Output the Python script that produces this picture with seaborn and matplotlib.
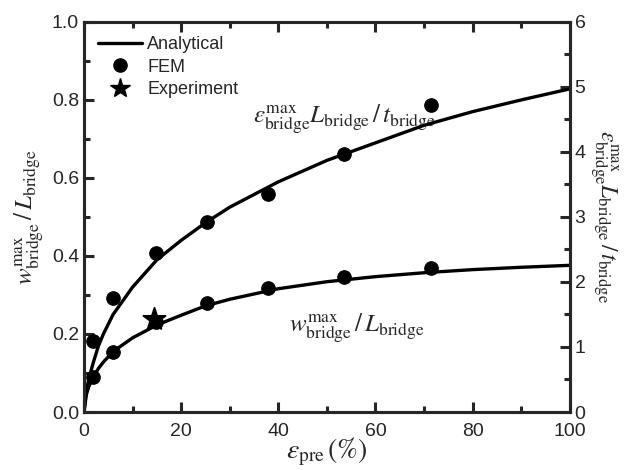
import seaborn as sns
import matplotlib.pyplot as plt
import pandas as pd
from matplotlib.lines import Line2D
from matplotlib.ticker import MultipleLocator

# prestrain (%) for the analytical curves
eps_curve = [0, 0.5, 1, 2, 3, 4, 6, 10, 15, 20, 25, 30, 40, 50, 60, 70, 80, 90, 100]
# w_max / L (left axis)
w_curve = [0, 0.045, 0.065, 0.092, 0.112, 0.128, 0.155, 0.19, 0.223, 0.248, 0.272,
           0.289, 0.316, 0.334, 0.347, 0.357, 0.365, 0.371, 0.376]
# eps_max * L / t (right axis)
s_curve = [0, 0.33, 0.51, 0.78, 1.02, 1.2, 1.5, 1.92, 2.34, 2.64, 2.91,
           3.15, 3.54, 3.87, 4.14, 4.41, 4.62, 4.8, 4.97]

# FEM results
eps_fem = [1.9, 6.0, 14.9, 25.4, 37.9, 53.5, 71.5]
w_fem = [0.09, 0.155, 0.23, 0.28, 0.319, 0.347, 0.368]
s_fem = [1.09, 1.76, 2.44, 2.93, 3.36, 3.97, 4.72]

# experiment
eps_exp = [14.4]
w_exp = [0.238]

sns.set_theme(style="ticks")
plt.rcParams["font.family"] = ["Liberation Sans", "DejaVu Sans"]
plt.rcParams["mathtext.fontset"] = "stix"

df_curve = pd.DataFrame({"eps": eps_curve, "w": w_curve, "s": s_curve})
df_fem = pd.DataFrame({"eps": eps_fem, "w": w_fem, "s": s_fem})
df_exp = pd.DataFrame({"eps": eps_exp, "w": w_exp})

fig = plt.figure(figsize=(6.36, 4.7), dpi=100)
ax = fig.add_axes([0.132, 0.1234, 0.764, 0.83])
ax2 = ax.twinx()

sns.lineplot(data=df_curve, x="eps", y="w", ax=ax, color="black", lw=2.4)
sns.scatterplot(data=df_fem, x="eps", y="w", ax=ax, color="black", s=95,
                edgecolor="black", zorder=5)
sns.scatterplot(data=df_exp, x="eps", y="w", ax=ax, color="black", marker="*",
                s=280, edgecolor="black", zorder=6)
sns.lineplot(data=df_curve, x="eps", y="s", ax=ax2, color="black", lw=2.4)
sns.scatterplot(data=df_fem, x="eps", y="s", ax=ax2, color="black", s=95,
                edgecolor="black", zorder=5)

ax.set_xlim(0, 100)
ax.set_ylim(0, 1.0)
ax2.set_ylim(0, 6)
ax.xaxis.set_major_locator(MultipleLocator(20))
ax.xaxis.set_minor_locator(MultipleLocator(10))
ax.yaxis.set_major_locator(MultipleLocator(0.2))
ax.yaxis.set_minor_locator(MultipleLocator(0.1))
ax2.yaxis.set_major_locator(MultipleLocator(1))
ax2.yaxis.set_minor_locator(MultipleLocator(0.5))
ax.yaxis.set_major_formatter(plt.FormatStrFormatter("%.1f"))

for a in (ax, ax2):
    for sp in a.spines.values():
        sp.set_linewidth(2.2)
        sp.set_visible(True)
    a.tick_params(which="major", direction="in", length=7, width=2.2, labelsize=14)
    a.tick_params(which="minor", direction="in", length=4, width=2.2)
ax.tick_params(which="both", top=True, right=False)
ax.tick_params(axis="x", pad=8)
ax2.tick_params(which="both", left=False, right=True, top=False)

ax.set_xlabel(r"$\varepsilon_{\mathrm{pre}}\,(\%)$", fontsize=20, labelpad=-3)
ax.set_ylabel(r"$w_{\mathrm{bridge}}^{\mathrm{max}}\,/\,L_{\mathrm{bridge}}$", fontsize=18, labelpad=4)
ax2.set_ylabel(r"$\varepsilon_{\mathrm{bridge}}^{\mathrm{max}}L_{\mathrm{bridge}}\,/\,t_{\mathrm{bridge}}$",
               fontsize=17, rotation=-90, labelpad=24)

ax.text(53.7, 0.75, r"$\varepsilon_{\mathrm{bridge}}^{\mathrm{max}}L_{\mathrm{bridge}}\,/\,t_{\mathrm{bridge}}$",
        fontsize=18, ha="center", va="center")
ax.text(56.2, 0.215, r"$w_{\mathrm{bridge}}^{\mathrm{max}}\,/\,L_{\mathrm{bridge}}$",
        fontsize=18, ha="center", va="center")

handles = [Line2D([], [], color="black", lw=2.4),
           Line2D([], [], color="black", marker="o", ls="", ms=9.5),
           Line2D([], [], color="black", marker="*", ls="", ms=15)]
ax.legend(handles, ["Analytical", "FEM", "Experiment"], loc="upper left",
          frameon=False, fontsize=13, handlelength=2.4, handletextpad=0.3,
          labelspacing=0.3, borderaxespad=0.4)

fig.savefig("out.png", dpi=100)
